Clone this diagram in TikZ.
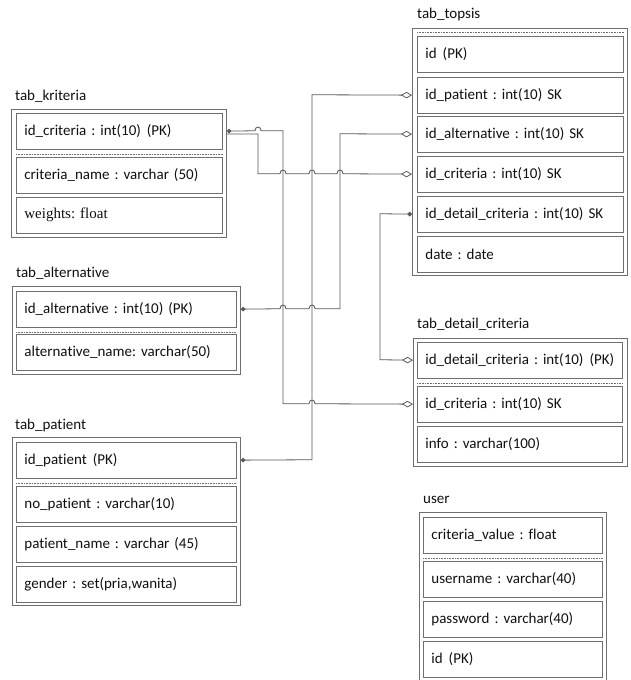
\documentclass[tikz,border=0pt]{standalone}
\usepackage{fontspec}
\setmainfont{Carlito}[Ligatures=NoCommon]
\newfontfamily\timesfont{Liberation Serif}
\usetikzlibrary{arrows.meta}
\definecolor{boxgray}{HTML}{6E6E6E}
\definecolor{linegray}{HTML}{5A5A5A}
\definecolor{txt}{HTML}{101010}
\frenchspacing
\newcommand{\wsp}{\hspace{6pt}}
\tikzset{
  outerbox/.style={draw=boxgray, line width=0.8pt, anchor=north west, inner sep=0pt},
  rowbox/.style={draw=boxgray, line width=0.8pt, anchor=north west, text width=#1,
    minimum height=35.5pt, inner xsep=8pt, inner ysep=0pt, align=left,
    font=\fontsize{15}{17}\selectfont, text=txt},
  tabtitle/.style={anchor=base west, inner sep=0pt, font=\fontsize{15}{17}\selectfont, text=txt},
  sepline/.style={boxgray, densely dotted, line width=0.6pt},
  conn/.style={linegray, line width=0.8pt},
  fk/.style={conn, -{Diamond[open,length=11pt,width=6.5pt]}},
  pkfk/.style={conn, {Circle[length=4.5pt]}-{Diamond[open,length=11pt,width=6.5pt]}},
  hop/.style args={#1/#2}{insert path={-- ({#1-3},#2) .. controls ({#1-3},{#2-5}) and ({#1+3},{#2-5}) .. ({#1+3},#2)}},
}
\begin{document}
\begin{tikzpicture}[x=1pt,y=-1pt]
\useasboundingbox[fill=white] (0,0) rectangle (630,680);

% titles
\node[tabtitle] (tkr) at (15,100) {tab\_kriteria};
\node[tabtitle] (ttp) at (417,19) {tab\_topsis};
\node[tabtitle] (tal) at (16,277) {tab\_alternative};
\node[tabtitle] (tpa) at (15,429) {tab\_patient};
\node[tabtitle] (tdc) at (417,328) {tab\_detail\_criteria};
\node[tabtitle] (tus) at (423,503) {user};

% outer boxes
\node[outerbox, minimum width=215pt, minimum height=128pt] (kriteria) at (11,109) {};
\node[outerbox, minimum width=215pt, minimum height=247pt] (topsis) at (412,28) {};
\node[outerbox, minimum width=228pt, minimum height=88pt] (alternative) at (12,286) {};
\node[outerbox, minimum width=228pt, minimum height=168pt] (patient) at (12,437) {};
\node[outerbox, minimum width=214pt, minimum height=128pt] (detail) at (413,338) {};
\node[outerbox, minimum width=187pt, minimum height=172pt] (user) at (419,512) {};

% tab_kriteria
\node[rowbox=190pt] (kc) at (16,113) {id\_criteria : int(10)\wsp(PK)};
\node[rowbox=190pt] (kn) at (16,157) {criteria\_name : varchar (50)};
\node[rowbox=190pt] (kw) at (16,197) {\timesfont weights: float};
\draw[sepline] ([yshift=-4.5pt]kc.south west) -- ([yshift=-4.5pt]kc.south east);

% tab_topsis
\node[rowbox=190pt] (tp1) at (417,36) {id\wsp(PK)};
\node[rowbox=190pt] (tp2) at (417,77) {id\_patient : int(10) SK};
\node[rowbox=190pt] (tp3) at (417,116) {id\_alternative : int(10) SK};
\node[rowbox=190pt] (tp4) at (417,156) {id\_criteria : int(10) SK};
\node[rowbox=190pt] (tp5) at (417,196) {id\_detail\_criteria : int(10) SK};
\node[rowbox=190pt] (tp6) at (417,236) {date : date};
\draw[sepline] ([yshift=4pt]tp1.north west) -- ([yshift=4pt]tp1.north east);

% tab_alternative
\node[rowbox=204pt] (al1) at (16,291) {id\_alternative : int(10) (PK)};
\node[rowbox=204pt] (al2) at (16,334) {alternative\_name: varchar(50)};
\draw[sepline] ([yshift=-4.5pt]al1.south west) -- ([yshift=-4.5pt]al1.south east);

% tab_patient
\node[rowbox=204pt] (pa1) at (16,442) {id\_patient\wsp(PK)};
\node[rowbox=204pt] (pa2) at (16,486) {no\_patient : varchar(10)};
\node[rowbox=204pt] (pa3) at (16,526) {patient\_name : varchar (45)};
\node[rowbox=204pt] (pa4) at (16,566) {gender : set(pria,wanita)};
\draw[sepline] ([yshift=-4.5pt]pa1.south west) -- ([yshift=-4.5pt]pa1.south east);

% tab_detail_criteria
\node[rowbox=189pt] (dc1) at (417,342) {\mbox{id\_detail\_criteria : int(10)\wsp(PK)}};
\node[rowbox=189pt] (dc2) at (417,386) {id\_criteria : int(10) SK};
\node[rowbox=189pt] (dc3) at (417,426) {info : varchar(100)};
\draw[sepline] ([yshift=-4.5pt]dc1.south west) -- ([yshift=-4.5pt]dc1.south east);

% user
\node[rowbox=163pt] (us1) at (423,517) {criteria\_value : float};
\node[rowbox=163pt] (us2) at (423,561) {username : varchar(40)};
\node[rowbox=163pt] (us3) at (423,601) {password : varchar(40)};
\node[rowbox=163pt] (us4) at (423,641) {id\wsp(PK)};
\draw[sepline] ([yshift=-4.5pt]us1.south west) -- ([yshift=-4.5pt]us1.south east);

% connectors
\draw[pkfk] (kc.east -| kriteria.east) [hop=258/130.75] -- (283,130.75) -- (283,403.75)
  [hop=312/403.75] -- (dc2.west -| detail.west);
\draw[fk] (kriteria.east |- 0,134) -- (258,134) -- (258,173.75)
  [hop=283/173.75] [hop=312/173.75] [hop=340/173.75] -- (tp4.west -| topsis.west);
\draw[pkfk] (al1.east -| alternative.east) [hop=283/308.75] [hop=312/308.75] -- (340,308.75)
  -- (340,133.75) -- (tp3.west -| topsis.west);
\draw[pkfk] (pa1.east -| patient.east) -- (312,459.75) -- (312,94.75) -- (tp2.west -| topsis.west);
\draw[pkfk] (tp5.west -| topsis.west) -- (380,213.75) -- (380,359.75) -- (dc1.west -| detail.west);
\end{tikzpicture}
\end{document}
